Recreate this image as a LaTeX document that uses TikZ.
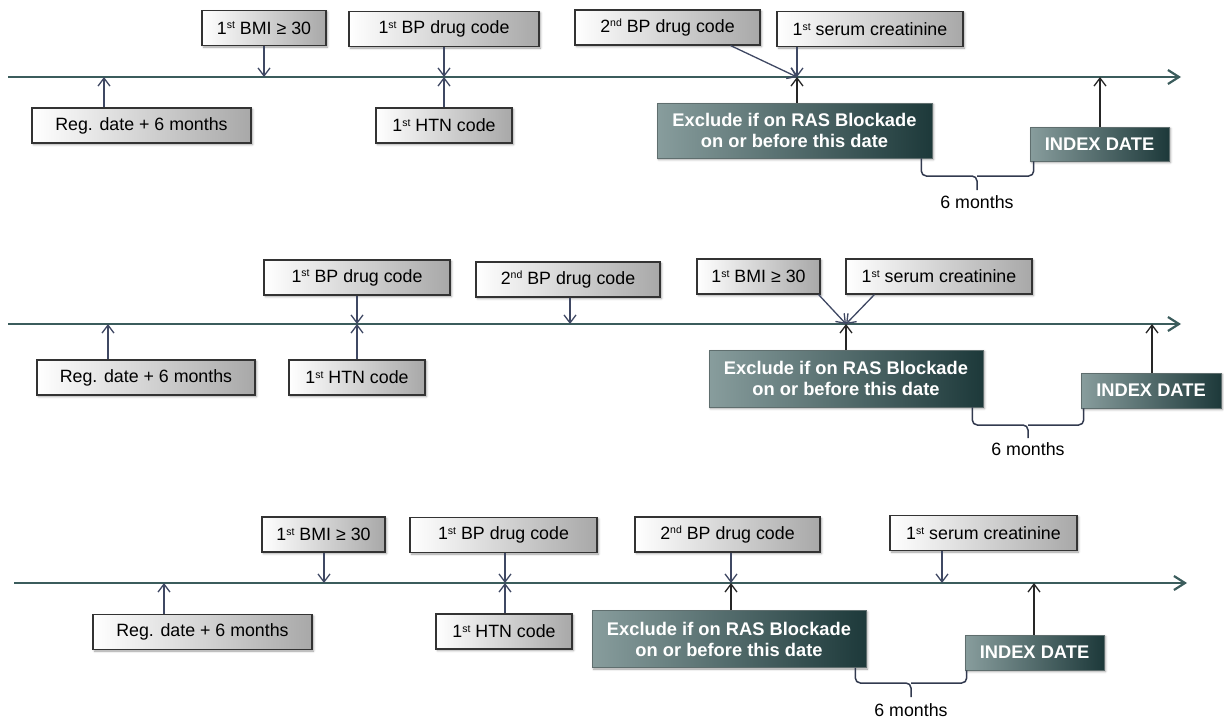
\documentclass[tikz,border=0pt]{standalone}
\usepackage{fontspec}
\setmainfont{Liberation Sans}
\usetikzlibrary{arrows.meta,positioning,calc,shadows.blur}
\definecolor{tlLine}{HTML}{3B5C5C}
\definecolor{arrLine}{HTML}{3F4863}
\definecolor{keyLeft}{HTML}{889D9D}
\definecolor{keyRight}{HTML}{1D393A}
\definecolor{evtEdge}{HTML}{333333}
\definecolor{evtRight}{HTML}{A8A8A8}
\newcommand{\ordsup}[1]{\raisebox{0.55ex}{\fontsize{10.5}{10.5}\selectfont #1}}

\begin{document}
\begin{tikzpicture}[
  x=1pt,y=-1pt,
  font=\fontsize{17.8}{21}\selectfont,
  evt/.style={draw=evtEdge,line width=1.1pt,left color=white,right color=evtRight,
              minimum height=35pt,inner sep=2pt,
              blur shadow={shadow blur steps=4,shadow xshift=1.5pt,shadow yshift=-1.5pt}},
  key/.style={draw=keyLeft!70!black,line width=0.6pt,left color=keyLeft,right color=keyRight,
              text=white,align=center,inner sep=2pt,font=\fontsize{18.3}{21}\selectfont\bfseries,
              blur shadow={shadow blur steps=4,shadow xshift=1.5pt,shadow yshift=-1.5pt}},
  tl/.style={-{Straight Barb[length=11pt,width=14pt]},tlLine,line width=2.2pt},
  arr/.style={-{Straight Barb[length=8pt,width=12pt]},arrLine,line width=1.3pt},
  darr/.style={arr,black!85},
  brc/.style={arrLine!80!black,line width=1.5pt,rounded corners=5pt}
]
\useasboundingbox (0,0) rectangle (1224,723);

% ---- Scenario A ----
\coordinate (sA) at (8,77);
\coordinate (eA) at (1181,77);
\coordinate (tA1) at (104,77);
\coordinate (tA2) at (264,77);
\coordinate (tA3) at (444,77);
\coordinate (tA4) at (797,77);
\coordinate (tA5) at (1100,77);
\draw[tl] (sA) -- (eA);

\node[evt,minimum width=124pt] (bmiA) at (264,28)    {1\ordsup{st} BMI ≥ 30};
\node[evt,minimum width=190pt] (bpA)  at (444,29)    {1\ordsup{st} BP drug code};
\node[evt,minimum width=185pt] (bp2A) at (667.5,27.5) {2\ordsup{nd} BP drug code};
\node[evt,minimum width=186pt] (crA)  at (870,29)    {1\ordsup{st} serum creatinine};
\node[evt,minimum width=219pt] (regA) at (141.5,125.5) {Reg. date + 6 months};
\node[evt,minimum width=136pt] (htnA) at (444,125.5) {1\ordsup{st} HTN code};
\node[key,minimum width=275pt,minimum height=55pt] (exA)  at (794.5,130.5) {Exclude if on RAS Blockade\\on or before this date};
\node[key,minimum width=139pt,minimum height=34pt] (idxA) at (1099.5,144)  {INDEX DATE};
\node (mA) at (977,202) {6 months};

\draw[arr] (regA.north -| tA1) -- (tA1);
\draw[arr] (bmiA.south -| tA2) -- (tA2);
\draw[arr] (bpA.south -| tA3) -- (tA3);
\draw[arr] (htnA.north -| tA3) -- (tA3);
\draw[arr] ([xshift=-30pt]bp2A.south east) -- (tA4);
\draw[arr] (crA.south -| tA4) -- (tA4);
\draw[darr] (exA.north -| tA4) -- (tA4);
\draw[darr] (idxA.north -| tA5) -- (tA5);

\coordinate (bA) at (977,176);
\draw[brc] ([xshift=-11pt]exA.south east) |- (bA) -- ++(0,14);
\draw[brc] ([xshift=4pt]idxA.south west) |- (bA);

% ---- Scenario B ----
\coordinate (sB) at (8,324);
\coordinate (eB) at (1181,324);
\coordinate (tB1) at (108,324);
\coordinate (tB2) at (357,324);
\coordinate (tB3) at (570,324);
\coordinate (tB4) at (846,324);
\coordinate (tB5) at (1152,324);
\draw[tl] (sB) -- (eB);

\node[evt,minimum width=186pt] (bpB)  at (357,277.5) {1\ordsup{st} BP drug code};
\node[evt,minimum width=184pt] (bp2B) at (568,279.5) {2\ordsup{nd} BP drug code};
\node[evt,minimum width=123pt] (bmiB) at (758.5,276.5) {1\ordsup{st} BMI ≥ 30};
\node[evt,minimum width=186pt] (crB)  at (939,276.5) {1\ordsup{st} serum creatinine};
\node[evt,minimum width=218pt] (regB) at (146,377.5) {Reg. date + 6 months};
\node[evt,minimum width=136pt] (htnB) at (357,377.5) {1\ordsup{st} HTN code};
\node[key,minimum width=274pt,minimum height=57pt] (exB)  at (846,378.5) {Exclude if on RAS Blockade\\on or before this date};
\node[key,minimum width=140pt,minimum height=35pt] (idxB) at (1151,390.5) {INDEX DATE};
\node (mB) at (1028,449) {6 months};

\draw[arr] (regB.north -| tB1) -- (tB1);
\draw[arr] (bpB.south -| tB2) -- (tB2);
\draw[arr] (htnB.north -| tB2) -- (tB2);
\draw[arr] (bp2B.south -| tB3) -- (tB3);
\draw[arr] ([xshift=-2pt]bmiB.south east) -- (tB4);
\draw[arr] ([xshift=29pt]crB.south west) -- (tB4);
\draw[darr] (exB.north -| tB4) -- (tB4);
\draw[darr] (idxB.north -| tB5) -- (tB5);

\coordinate (bB) at (1028,425);
\draw[brc] ([xshift=-11pt]exB.south east) |- (bB) -- ++(0,13);
\draw[brc] ([xshift=3pt]idxB.south west) |- (bB);

% ---- Scenario C ----
\coordinate (sC) at (14,583);
\coordinate (eC) at (1187,583);
\coordinate (tC1) at (164,583);
\coordinate (tC2) at (324,583);
\coordinate (tC3) at (505,583);
\coordinate (tC4) at (731,583);
\coordinate (tC5) at (942,583);
\coordinate (tC6) at (1034,583);
\draw[tl] (sC) -- (eC);

\node[evt,minimum width=123pt] (bmiC) at (323.5,534.5) {1\ordsup{st} BMI ≥ 30};
\node[evt,minimum width=187pt] (bpC)  at (503.5,535)   {1\ordsup{st} BP drug code};
\node[evt,minimum width=185pt] (bp2C) at (727.5,534.5) {2\ordsup{nd} BP drug code};
\node[evt,minimum width=187pt] (crC)  at (983.5,533)   {1\ordsup{st} serum creatinine};
\node[evt,minimum width=219pt] (regC) at (202.5,632)   {Reg. date + 6 months};
\node[evt,minimum width=136pt] (htnC) at (504,631.5)   {1\ordsup{st} HTN code};
\node[key,minimum width=274pt,minimum height=57pt] (exC)  at (729,639) {Exclude if on RAS Blockade\\on or before this date};
\node[key,minimum width=139pt,minimum height=35pt] (idxC) at (1034.5,652.5) {INDEX DATE};
\node (mC) at (911,710) {6 months};

\draw[arr] (regC.north -| tC1) -- (tC1);
\draw[arr] (bmiC.south -| tC2) -- (tC2);
\draw[arr] (bpC.south -| tC3) -- (tC3);
\draw[arr] (htnC.north -| tC3) -- (tC3);
\draw[arr] (bp2C.south -| tC4) -- (tC4);
\draw[arr] (crC.south -| tC5) -- (tC5);
\draw[darr] (exC.north -| tC4) -- (tC4);
\draw[darr] (idxC.north -| tC6) -- (tC6);

\coordinate (bC) at (911,683);
\draw[brc] ([xshift=-11pt]exC.south east) |- (bC) -- ++(0,14);
\draw[brc] ([xshift=2pt]idxC.south west) |- (bC);
\end{tikzpicture}
\end{document}
